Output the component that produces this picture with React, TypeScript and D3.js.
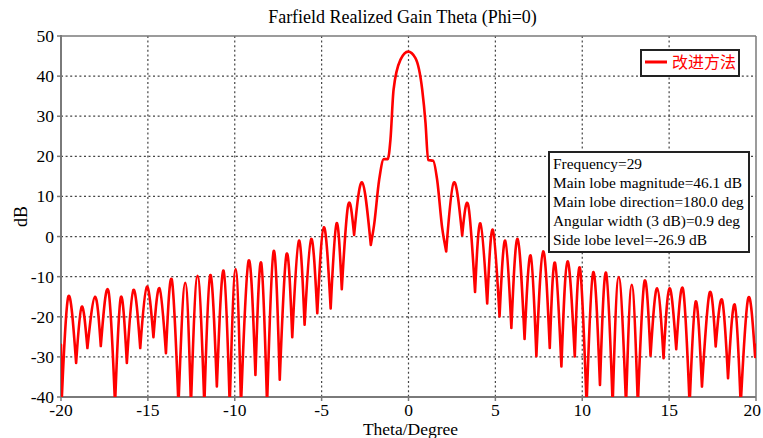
import React from "react";
import * as d3 from "d3";

// pattern: lobe peaks and nulls (degrees, dB)
const theta = [
  -20, -19.97, -19.58, -19.13, -18.81, -18.48, -18.04, -17.71, -17.27, -16.89,
  -16.56, -16.21, -15.83, -15.44, -15.06, -14.68, -14.33, -13.96, -13.62, -13.24,
  -12.85, -12.52, -12.14, -11.75, -11.41, -11.03, -10.64, -10.29, -9.95, -9.64,
  -9.2, -8.81, -8.48, -8.14, -7.76, -7.41, -7.02, -6.69, -6.31, -5.98,
  -5.6, -5.25, -4.87, -4.48, -4.14, -3.84, -3.47, -3.13, -2.67, -2.17,
  -1.98, -1.69, -1.42, -1.19, -1.04, -0.86, -0.46, -0.02, 0.4, 0.79,
  0.98, 1.13, 1.42, 1.65, 1.94, 2.17, 2.61, 3.09, 3.44, 3.83,
  4.14, 4.53, 4.85, 5.24, 5.57, 5.92, 6.28, 6.68, 7.03, 7.36,
  7.75, 8.13, 8.43, 8.8, 9.15, 9.57, 9.87, 10.25, 10.63, 11.02,
  11.37, 11.75, 12.1, 12.52, 12.85, 13.2, 13.58, 13.93, 14.31, 14.68,
  15.02, 15.41, 15.8, 16.18, 16.53, 16.89, 17.33, 17.68, 18.05, 18.39,
  18.78, 19.12, 19.55, 19.95, 20,
];
const gain = [
  -27, -42, -15.0, -31.5, -17.5, -27.8, -15.0, -27.3, -13.5, -42,
  -15.2, -31.5, -13.3, -27.8, -12.5, -25.1, -12.9, -29.1, -10.8, -42,
  -11.5, -42, -9.8, -42, -9.6, -37.4, -8.5, -42, -8.1, -42,
  -6.0, -34.5, -6.5, -42, -3.6, -35.7, -4.4, -25.1, -1.0, -22.0,
  -0.6, -19.1, 2.3, -17.9, 3.3, -13.1, 7.9, 0.4, 13.5, -2.1,
  2.9, 14.1, 19.3, 19.3, 24.1, 36.6, 44.1, 46.1, 44.5, 36.6,
  28.3, 19.1, 18.9, 14.1, 2.1, -3.7, 13.5, 0.3, 7.8, -13.8,
  3.3, -16.7, 1.7, -19.9, -1.0, -22.8, -0.6, -25.5, -4.7, -29.8,
  -3.7, -27.8, -6.5, -32.4, -6.2, -29.9, -7.9, -42, -8.9, -37.0,
  -9.0, -42, -10.1, -42, -12.0, -42, -11.2, -29.7, -12.9, -30.3,
  -12.9, -28.1, -13.1, -42, -16.2, -37.4, -14.0, -27.4, -15.8, -35.3,
  -17.0, -42, -15.4, -30, -27,
];

const xTicks = [-20, -15, -10, -5, 0, 5, 10, 15, 20];
const yTicks = [-40, -30, -20, -10, 0, 10, 20, 30, 40, 50];
const seriesName = "改进方法";
const infoLines = [
  "Frequency=29",
  "Main lobe magnitude=46.1 dB",
  "Main lobe direction=180.0 deg",
  "Angular width (3 dB)=0.9 deg",
  "Side lobe level=-26.9 dB",
];

const W = 763;
const H = 438;
const margin = { top: 36, right: 7, bottom: 41, left: 61 };
const serif = "'Liberation Serif', 'Times New Roman', 'Noto Sans CJK SC', serif";

export default function App() {
  const x = d3.scaleLinear().domain([-20, 20]).range([margin.left, W - margin.right]);
  const y = d3.scaleLinear().domain([-40, 50]).range([H - margin.bottom, margin.top]);
  const pts = theta.map((t, i) => [t, gain[i]] as [number, number]);

  // split at the nulls so every lobe is its own spline (sharp nulls, round tops)
  const cuts = [0];
  for (let i = 1; i < pts.length - 1; i++) {
    if (gain[i] < gain[i - 1] && gain[i] < gain[i + 1]) cuts.push(i);
  }
  cuts.push(pts.length - 1);
  const segs = d3.pairs(cuts).map(([a, b]) => pts.slice(a, b + 1));
  const pathFor = (seg: [number, number][]) =>
    d3
      .line<[number, number]>()
      .x((d) => x(d[0]))
      .y((d) => y(d[1]))
      .curve(seg.length === 3 ? d3.curveNatural : d3.curveMonotoneX)(seg) ?? "";
  const d = segs.map(pathFor).join("");

  const x0 = margin.left;
  const x1 = W - margin.right;
  const y0 = H - margin.bottom;
  const y1 = margin.top;

  return (
    <svg width={W} height={H} style={{ position: "absolute", left: 0, top: 0 }} fontFamily={serif}>
      <rect width={W} height={H} fill="#fff" />
      <defs>
        <clipPath id="plot">
          <rect x={x0} y={y1} width={x1 - x0} height={y0 - y1} />
        </clipPath>
      </defs>
      <text x={(x0 + x1) / 2 - 6} y={23} textAnchor="middle" fontSize={18}>
        Farfield Realized Gain Theta (Phi=0)
      </text>
      {/* grid */}
      <g stroke="#444" strokeWidth={1.2} strokeDasharray="2,2.6">
        {xTicks.slice(1, -1).map((t) => (
          <line key={"gx" + t} x1={x(t)} x2={x(t)} y1={y1} y2={y0} />
        ))}
        {yTicks.slice(1, -1).map((t) => (
          <line key={"gy" + t} x1={x0} x2={x1} y1={y(t)} y2={y(t)} />
        ))}
      </g>
      {/* frame */}
      <g stroke="#7a7a7a" fill="none">
        <line x1={x0} x2={x1} y1={y1} y2={y1} strokeWidth={1.5} />
        <line x1={x1} x2={x1} y1={y1} y2={y0} strokeWidth={1.5} />
        <line x1={x0} x2={x0} y1={y1 - 1} y2={y0 + 1} strokeWidth={2} />
        <line x1={x0} x2={x1} y1={y0} y2={y0} strokeWidth={2} />
        {yTicks.map((t) => (
          <line key={"ty" + t} x1={x0 - 4} x2={x0} y1={y(t)} y2={y(t)} strokeWidth={1.5} />
        ))}
        {xTicks.map((t) => (
          <line key={"tx" + t} x1={x(t)} x2={x(t)} y1={y0} y2={y0 + 4} strokeWidth={1.5} />
        ))}
      </g>
      <g fontSize={17.5} fill="#000">
        {yTicks.map((t) => (
          <text key={"ly" + t} x={x0 - 7} y={y(t) + 6} textAnchor="end">
            {t}
          </text>
        ))}
        {xTicks.map((t, i) => (
          <text
            key={"lx" + t}
            x={i === xTicks.length - 1 ? W - 2 : x(t)}
            y={y0 + 19}
            textAnchor={i === xTicks.length - 1 ? "end" : "middle"}
          >
            {t}
          </text>
        ))}
      </g>
      <text x={(x0 + x1) / 2 + 2} y={435} textAnchor="middle" fontSize={17.5}>
        Theta/Degree
      </text>
      <text transform={`translate(27,${(y0 + y1) / 2}) rotate(-90)`} textAnchor="middle" fontSize={18}>
        dB
      </text>
      {/* curve */}
      <path
        d={d}
        fill="none"
        stroke="#ff0000"
        strokeWidth={2.6}
        strokeLinejoin="round"
        strokeLinecap="round"
        clipPath="url(#plot)"
      />
      {/* legend */}
      <rect x={641} y={50} width={98} height={26} fill="#fff" stroke="#222" strokeWidth={2} />
      <line x1={645} x2={667} y1={62} y2={62} stroke="#ff0000" strokeWidth={3} />
      <text x={672} y={68} fontSize={16} fill="#ff0000">
        {seriesName}
      </text>
      {/* info box */}
      <rect x={549} y={152} width={200} height={100} fill="#fff" stroke="#222" strokeWidth={2} />
      {infoLines.map((s, i) => (
        <text key={s} x={553} y={169 + i * 19} fontSize={15.4}>
          {s}
        </text>
      ))}
    </svg>
  );
}
